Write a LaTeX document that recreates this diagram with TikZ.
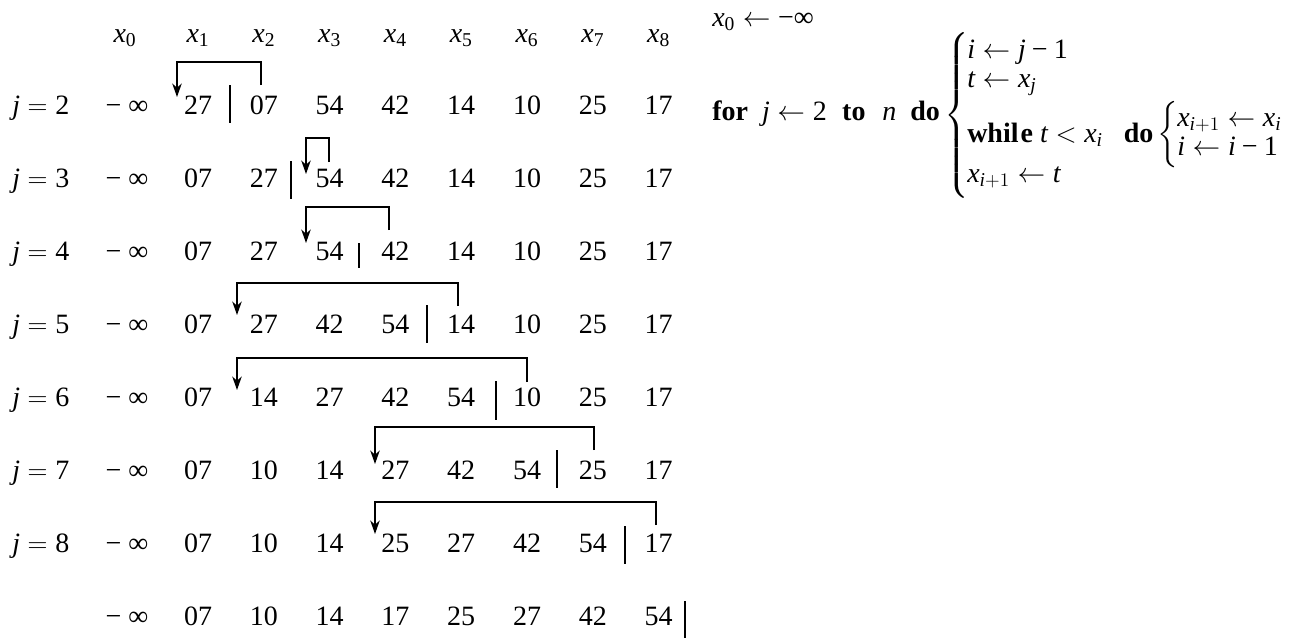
\documentclass[tikz,border=0pt]{standalone}
\usepackage{amsmath}
\usepackage{fontspec}
\setmainfont{Liberation Serif}
\usetikzlibrary{arrows.meta}
\newcommand{\vi}[1]{\textit{#1}}
\newcommand{\mn}{\mathbin{\text{−}}}
\begin{document}
\begin{tikzpicture}[x=0.75pt,y=-0.75pt,font=\fontsize{21}{25}\selectfont,
  cell/.style={anchor=base,inner sep=0pt},
  lab/.style={anchor=base west,inner sep=0pt},
  brace/.style={anchor=center,inner sep=0pt},
  sepbar/.style={line width=1.4pt},
  swap/.style={line width=1.4pt,-{Stealth[length=10pt,width=7pt,inset=3pt]}}]
\useasboundingbox (0,0) rectangle (1290,637);
% header
\node[cell] (h0) at (125,42) {$\vi{x}_{\text{0}}$};
\foreach \c in {1,...,8}
  \node[cell] (h\c) at ({198+65.8*(\c-1)},42) {$\vi{x}_{\text{\c}}$};
% rows
\foreach \r/\vals [count=\k from 0] in {
  2/{27,07,54,42,14,10,25,17},
  3/{07,27,54,42,14,10,25,17},
  4/{07,27,54,42,14,10,25,17},
  5/{07,27,42,54,14,10,25,17},
  6/{07,14,27,42,54,10,25,17},
  7/{07,10,14,27,42,54,25,17},
  8/{07,10,14,25,27,42,54,17},
  9/{07,10,14,17,25,27,42,54}}{
  \pgfmathsetmacro\by{114+73.1*\k}
  \node[cell] (a\r-0) at (127,\by) {−\hspace{.25em}∞};
  \foreach \v [count=\c] in \vals
    \node[cell] (a\r-\c) at ({198+65.8*(\c-1)},\by) {\v};
}
\foreach \r [count=\k from 0] in {2,...,8}{
  \pgfmathsetmacro\by{114+73.1*\k}
  \node[lab] (j\r) at (12,\by) {$\vi{j}=\text{\r}$};
}
% separators
\foreach \x/\ya/\yb in {230/85/123,291/161/199,359/243/268,427/305/343,496/381/420,557/450/488,625/526/564,685/601/640}
  \draw[sepbar] (\x,\ya) -- (\x,\yb);
% insertion arrows
\foreach \r/\sx/\sy/\ty/\tx/\tt in {2/261/85/62/177/97,3/329/162/138/306/174,4/389/230/207/306/243,5/458/306/283/237/315,6/527/382/358/237/390,7/594/450/427/375/464,8/656/525/502/375/534}{
  \coordinate (s\r) at (\sx,\sy);
  \coordinate (t\r) at (\tx,\tt);
  \draw[swap] (s\r) -- ++(0,{\ty-\sy}) -| (t\r);
}
% algorithm
\node[lab] (init) at (712,26) {$\vi{x}_{\text{0}}\leftarrow\text{−}\text{∞}$};
\node[lab] (loop) at (712,120) {\textbf{for}\hspace{0.5em}$\vi{j}\leftarrow\text{2}$\hspace{0.55em}\textbf{to}\hspace{0.6em}\vi{n}\hspace{0.5em}\textbf{do}};
\node[brace] (bigbrace) at (958,115) {$\left\{\vcenter{\hbox{\rule{0pt}{121pt}}}\right.$};
\node[lab] (l1) at (967,58) {$\vi{i}\leftarrow\vi{j}\mn\text{1}$};
\node[lab] (l2) at (967,87) {$\vi{t}\leftarrow\vi{x}_{\vi{j}}$};
\node[lab] (l3) at (967,142) {\textbf{whil\kern1.5pt e}\hspace{0.25em}$\vi{t}<\vi{x}_{\vi{i}}$\hspace{0.75em}\textbf{do}};
\node[brace] (smallbrace) at (1169,135) {$\left\{\vcenter{\hbox{\rule{0pt}{44pt}}}\right.$};
\node[lab] (l3a) at (1177,126) {$\vi{x}_{\vi{i}+1}\leftarrow\vi{x}_{\vi{i}}$};
\node[lab] (l3b) at (1177,155) {$\vi{i}\leftarrow\vi{i}\mn\text{1}$};
\node[lab] (l4) at (967,182) {$\vi{x}_{\vi{i}+1}\leftarrow\vi{t}$};
\end{tikzpicture}
\end{document}
